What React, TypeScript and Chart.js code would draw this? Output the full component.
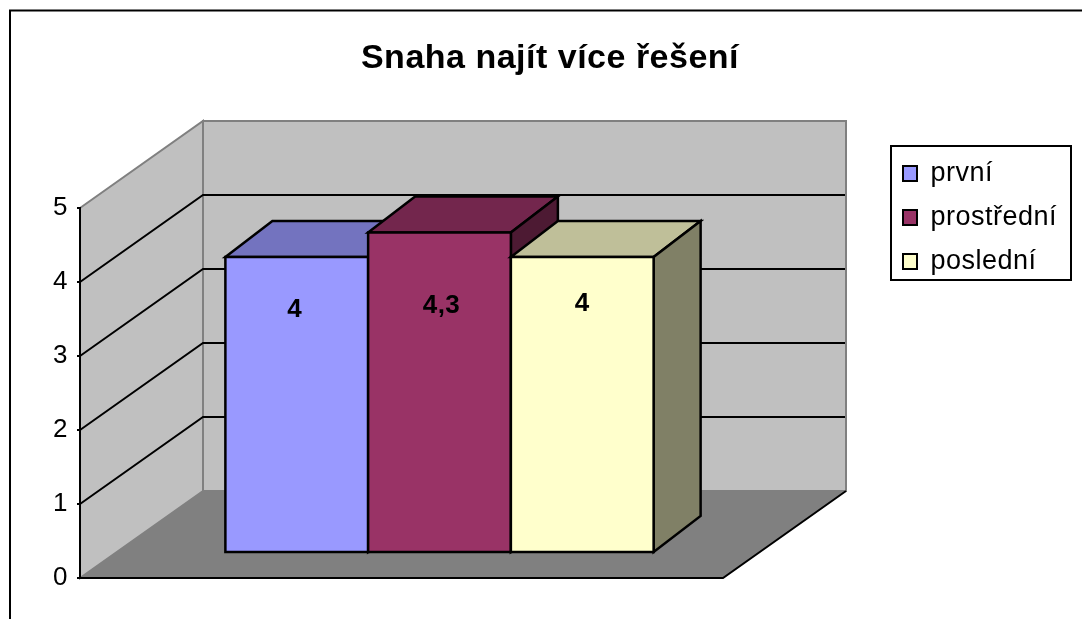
import React, { useEffect, useRef } from "react";
import { Chart, registerables } from "chart.js";

Chart.register(...registerables);

const categories = [""];
const titleText = "Snaha najít více řešení";
const seriesNames = ["první", "prostřední", "poslední"];
const prvni = [4];
const prostredni = [4.33];
const posledni = [4];
const seriesColors = ["#9999FF", "#993366", "#FFFFCC"];
const yTicks = [0, 1, 2, 3, 4, 5];

const FONT = "'Liberation Sans', Arial, sans-serif";
const WALL_DX = 123;
const WALL_DY = -87;
const BAR_SHIFT_X = 38;
const BAR_SHIFT_Y = -25;
const BAR_DX = 47;
const BAR_DY = -36;
const BAR_LINE = 2.5;
const LABEL_DROP = [53, 73, 47];
const LABEL_NUDGE = [-2, 2, 0];

function shade(hex: string, f: number) {
  const n = parseInt(hex.slice(1), 16);
  const r = Math.round(((n >> 16) & 255) * f);
  const g = Math.round(((n >> 8) & 255) * f);
  const b = Math.round((n & 255) * f);
  return `rgb(${r},${g},${b})`;
}

function poly(ctx: CanvasRenderingContext2D, pts: number[][], fill: string | null, stroke: string | null, lw = 2) {
  ctx.beginPath();
  pts.forEach((p, i) => (i ? ctx.lineTo(p[0], p[1]) : ctx.moveTo(p[0], p[1])));
  ctx.closePath();
  if (fill) {
    ctx.fillStyle = fill;
    ctx.fill();
  }
  if (stroke) {
    ctx.strokeStyle = stroke;
    ctx.lineWidth = lw;
    ctx.lineJoin = "miter";
    ctx.stroke();
  }
}

const spacingPlugin = {
  id: "spacing",
  beforeUpdate(chart: any) {
    chart.ctx.letterSpacing = "0.5px";
  },
  beforeDraw(chart: any) {
    chart.ctx.letterSpacing = "0.5px";
  },
};

const placePlugin = {
  id: "place",
  afterLayout(chart: any) {
    const t = chart.titleBlock;
    t.left = 250;
    t.right = 850;
    t.top = 42;
    t.bottom = 42 + t.height;
    const l = chart.legend;
    l.left = 886;
    l.right = 1075;
    l.top = 143;
    l.bottom = 300;
    l.width = 189;
    l.height = 157;
  },
};

const scenePlugin = {
  id: "scene",
  beforeDraw(chart: any) {
    const { ctx, chartArea: a, scales } = chart;
    const y = scales.y;
    ctx.save();
    ctx.fillStyle = "#FFFFFF";
    ctx.fillRect(0, 0, chart.width, chart.height);

    // outer frame
    ctx.strokeStyle = "#000";
    ctx.lineWidth = 2;
    ctx.beginPath();
    ctx.moveTo(10, chart.height);
    ctx.lineTo(10, 10.5);
    ctx.lineTo(chart.width, 10.5);
    ctx.stroke();

    const L = a.left;
    const R = a.right;
    const T = y.getPixelForValue(5);
    const B = y.getPixelForValue(0);
    const bl = L + WALL_DX;
    const br = R + WALL_DX;

    // floor
    poly(ctx, [[L, B], [bl, B + WALL_DY], [br, B + WALL_DY], [R, B]], "#808080", null);
    // walls
    poly(ctx, [[L, T], [bl, T + WALL_DY], [bl, B + WALL_DY], [L, B]], "#C0C0C0", "#808080");
    poly(ctx, [[bl, T + WALL_DY], [br, T + WALL_DY], [br, B + WALL_DY], [bl, B + WALL_DY]], "#C0C0C0", "#808080");

    // gridlines on the walls
    ctx.strokeStyle = "#000";
    ctx.lineWidth = 2;
    yTicks.slice(1, -1).forEach((v) => {
      const p = y.getPixelForValue(v);
      ctx.beginPath();
      ctx.moveTo(L, p);
      ctx.lineTo(bl, p + WALL_DY);
      ctx.lineTo(br - 1, p + WALL_DY);
      ctx.stroke();
    });

    // front and right floor edges
    ctx.beginPath();
    ctx.moveTo(L, B);
    ctx.lineTo(R, B);
    ctx.lineTo(br, B + WALL_DY);
    ctx.stroke();

    // legend frame
    ctx.fillStyle = "#FFFFFF";
    ctx.fillRect(891, 146, 180, 134);
    ctx.strokeStyle = "#000";
    ctx.lineWidth = 2;
    ctx.strokeRect(891, 146, 180, 134);
    ctx.restore();
  },
  beforeDatasetDraw() {
    return false;
  },
  beforeDatasetsDraw(chart: any) {
    const { ctx } = chart;
    chart.data.datasets.forEach((ds: any, i: number) => {
      const meta = chart.getDatasetMeta(i);
      const bar = meta.data[0];
      const hw = bar.width / 2;
      const x0 = bar.x - hw;
      const x1 = bar.x + hw;
      const top = bar.y;
      const bot = bar.base;
      ctx.save();
      ctx.translate(BAR_SHIFT_X, BAR_SHIFT_Y);
      poly(ctx, [[x0, top], [x0 + BAR_DX, top + BAR_DY], [x1 + BAR_DX, top + BAR_DY], [x1, top]], shade(seriesColors[i], 0.75), "#000", BAR_LINE);
      poly(ctx, [[x1, top], [x1 + BAR_DX, top + BAR_DY], [x1 + BAR_DX, bot + BAR_DY], [x1, bot]], shade(seriesColors[i], 0.5), "#000", BAR_LINE);
      bar.draw(ctx);
      poly(ctx, [[x0, top], [x1, top], [x1, bot], [x0, bot]], null, "#000", BAR_LINE);
      ctx.restore();
    });
  },
  afterDatasetsDraw(chart: any) {
    const { ctx } = chart;
    ctx.save();
    ctx.font = `bold 26px ${FONT}`;
    ctx.fillStyle = "#000";
    ctx.textAlign = "center";
    ctx.textBaseline = "middle";
    chart.data.datasets.forEach((ds: any, i: number) => {
      const bar = chart.getDatasetMeta(i).data[0];
      const text = String(Math.round(ds.data[0] * 10) / 10).replace(".", ",");
      ctx.fillText(text, bar.x + BAR_SHIFT_X + LABEL_NUDGE[i], bar.y + BAR_SHIFT_Y + LABEL_DROP[i]);
    });
    ctx.restore();
  },
};

export default function App() {
  const ref = useRef<HTMLCanvasElement | null>(null);

  useEffect(() => {
    if (!ref.current) return;
    const values = [prvni, prostredni, posledni];
    const chart = new Chart(ref.current, {
      type: "bar",
      data: {
        labels: categories,
        datasets: seriesNames.map((name, i) => ({
          label: name,
          data: values[i],
          backgroundColor: seriesColors[i],
          borderWidth: 0,
          borderSkipped: false,
          barPercentage: 1,
          categoryPercentage: 0.666,
        })),
      },
      options: {
        responsive: false,
        animation: false,
        events: [],
        layout: { padding: { left: 20, right: 359, top: 174, bottom: 41 } },
        plugins: {
          tooltip: { enabled: false },
          title: {
            display: true,
            text: titleText,
            color: "#000",
            padding: 0,
            font: { family: FONT, size: 34, weight: "bold", lineHeight: 1 },
          },
          legend: {
            display: true,
            position: "chartArea",
            align: "start",
            labels: {
              color: "#000",
              boxWidth: 14,
              boxHeight: 15,
              padding: 17,
              font: { family: FONT, size: 27 },
              generateLabels(chart: any) {
                return Chart.defaults.plugins.legend.labels
                  .generateLabels(chart)
                  .map((item: any) => ({ ...item, lineWidth: 2, strokeStyle: "#000000" }));
              },
            },
          },
        },
        scales: {
          x: { display: false },
          y: {
            min: 0,
            max: 5,
            afterFit(scale: any) {
              scale.width = 60;
            },
            grid: { drawOnChartArea: false, tickLength: 3, color: "#000", lineWidth: 2 },
            border: { color: "#000", width: 2 },
            ticks: {
              stepSize: 1,
              color: "#000",
              padding: 9,
              font: { family: FONT, size: 26 },
            },
          },
        },
      },
      plugins: [spacingPlugin, placePlugin, scenePlugin],
    } as any);
    return () => chart.destroy();
  }, []);

  return (
    <canvas
      ref={ref}
      width={1082}
      height={619}
      style={{ position: "fixed", left: 0, top: 0, width: 1082, height: 619, display: "block" }}
    />
  );
}
